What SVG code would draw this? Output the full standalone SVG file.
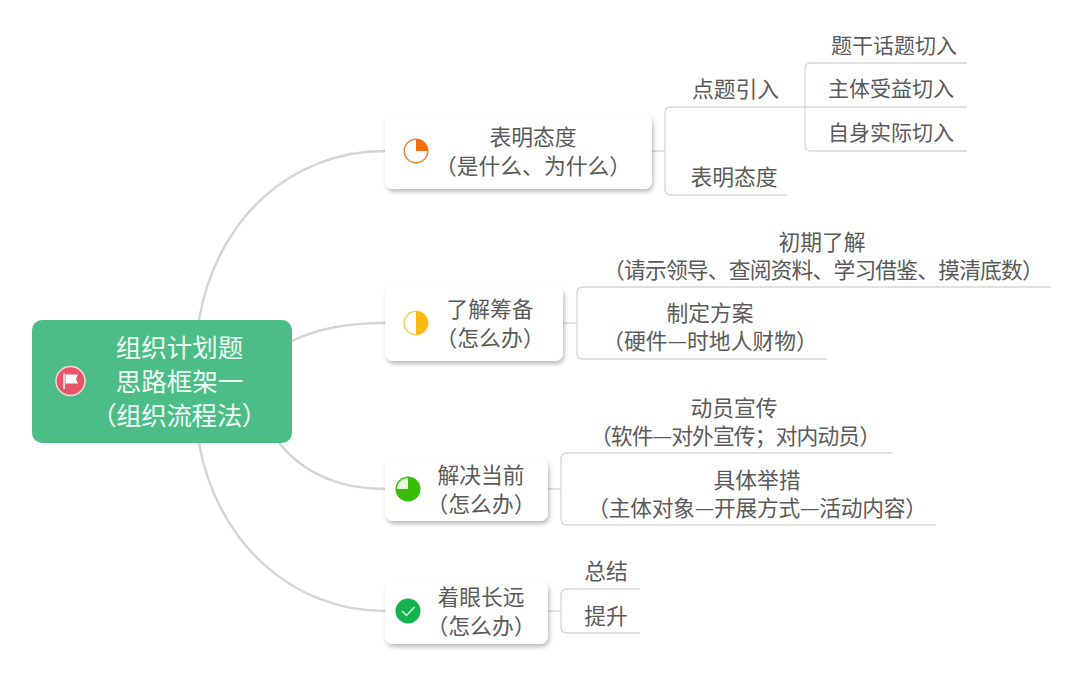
<svg xmlns="http://www.w3.org/2000/svg" width="1080" height="675" viewBox="0 0 1080 675">
<defs>
<style>
text{font-family:"Noto Sans CJK SC","Noto Sans",sans-serif;font-size:21.8px;fill:#5a5a5a;text-anchor:middle;dominant-baseline:central}
.root{font-size:25.5px;fill:#eefaf3}
.leaf{font-size:21px}
.c{fill:none;stroke:#d4d4d4;stroke-width:2.4}
.b{fill:none;stroke:#d6d6d6;stroke-width:1.3}
.card{fill:#fff;filter:url(#s)}
</style>
<filter id="s" x="-10%" y="-15%" width="120%" height="135%"><feDropShadow dx="1.500" dy="3" stdDeviation="2.200" flood-color="#000" flood-opacity=".26"/></filter>
</defs>
<rect width="1080" height="675" fill="#fff"/>
<g id="connectors">
<path class="c" d="M199 320C216 220 290 151 385 151"/>
<path class="c" d="M292 341C318 328 350 323 385 323"/>
<path class="c" d="M279 443C305 475 340 489 385 489"/>
<path class="c" d="M199 443C216 540 290 611 385 611"/>
<path class="b" d="M652 151H665M563 323H577M548 489H561M548 611H561"/>
<path class="b" d="M805 107H671Q665 107 665 113V189Q665 195 671 195H787"/>
<path class="b" d="M967 63H811Q805 63 805 69V145Q805 151 811 151H967M805 107H967"/>
<path class="b" d="M1051 287H583Q577 287 577 293V353Q577 359 583 359H827"/>
<path class="b" d="M892 453H567Q561 453 561 459V519Q561 525 567 525H936"/>
<path class="b" d="M640 589H567Q561 589 561 595V627Q561 633 567 633H640"/>
</g>
<g id="root">
<rect x="32" y="320" width="260" height="123" rx="10" fill="#4dbd88"/>
<circle cx="70.500" cy="381" r="14.500" fill="#e8546a" stroke="#f6d9d5" stroke-width="1.500"/>
<path d="M64 389V373.500" stroke="#fff" stroke-width="1.500" fill="none"/>
<path d="M65.500 374.500H78L76 379L78 383.500H65.500Z" fill="#fff"/>
<text class="root" x="179.500" y="345">组织计划题</text>
<text class="root" x="179.500" y="379">思路框架一</text>
<text class="root" x="179" y="413" letter-spacing="-0.400">（组织流程法）</text>
</g>
<g id="n1">
<rect class="card" x="385" y="114" width="267" height="75" rx="8"/>
<circle cx="416" cy="151" r="11.800" fill="#fff" stroke="#e8853a" stroke-width="1.500"/>
<path d="M416 151V139.200A11.800 11.800 0 0 1 427.800 151Z" fill="#f26b0f"/>
<text x="533" y="135">表明态度</text>
<text x="533" y="164">（是什么、为什么）</text>
</g>
<g id="n2">
<rect class="card" x="385" y="286" width="178" height="75" rx="8"/>
<circle cx="416" cy="323" r="11.800" fill="#fff" stroke="#f6cf5a" stroke-width="1.500"/>
<path d="M416 311.200A11.800 11.800 0 0 1 416 334.800Z" fill="#fbb811"/>
<text x="490" y="307">了解筹备</text>
<text x="490" y="336">（怎么办）</text>
</g>
<g id="n3">
<rect class="card" x="385" y="458" width="163" height="63" rx="8"/>
<circle cx="408" cy="489" r="12.500" fill="#39bd08"/>
<path d="M408 489V478A11 11 0 0 0 397 489Z" fill="#e8f7e2"/>
<text x="481" y="473">解决当前</text>
<text x="481" y="502">（怎么办）</text>
</g>
<g id="n4">
<rect class="card" x="385" y="581" width="163" height="63" rx="8"/>
<circle cx="408" cy="611" r="12.500" fill="#14b350"/>
<path d="M402 611L406.500 615.500L414.500 607" fill="none" stroke="#d8f5e0" stroke-width="1.500"/>
<text x="481" y="595">着眼长远</text>
<text x="481" y="624">（怎么办）</text>
</g>
<g id="n1a"><text x="735.500" y="87">点题引入</text></g>
<g id="n1b"><text x="734" y="175">表明态度</text></g>
<g id="n1a1"><text class="leaf" x="894" y="44">题干话题切入</text></g>
<g id="n1a2"><text class="leaf" x="891" y="87">主体受益切入</text></g>
<g id="n1a3"><text class="leaf" x="891" y="131">自身实际切入</text></g>
<g id="n2a"><text x="822" y="240">初期了解</text><text x="823" y="268" letter-spacing="-0.850">（请示领导、查阅资料、学习借鉴、摸清底数）</text></g>
<g id="n2b"><text x="710" y="311">制定方案</text><text x="710" y="339">（硬件—时地人财物）</text></g>
<g id="n3a"><text x="734" y="406">动员宣传</text><text x="735" y="434" letter-spacing="-0.900">（软件—对外宣传；对内动员）</text></g>
<g id="n3b"><text x="757" y="478">具体举措</text><text x="757" y="506" letter-spacing="-0.300">（主体对象—开展方式—活动内容）</text></g>
<g id="n4a"><text x="606" y="569">总结</text></g>
<g id="n4b"><text x="606" y="614">提升</text></g>
</svg>
